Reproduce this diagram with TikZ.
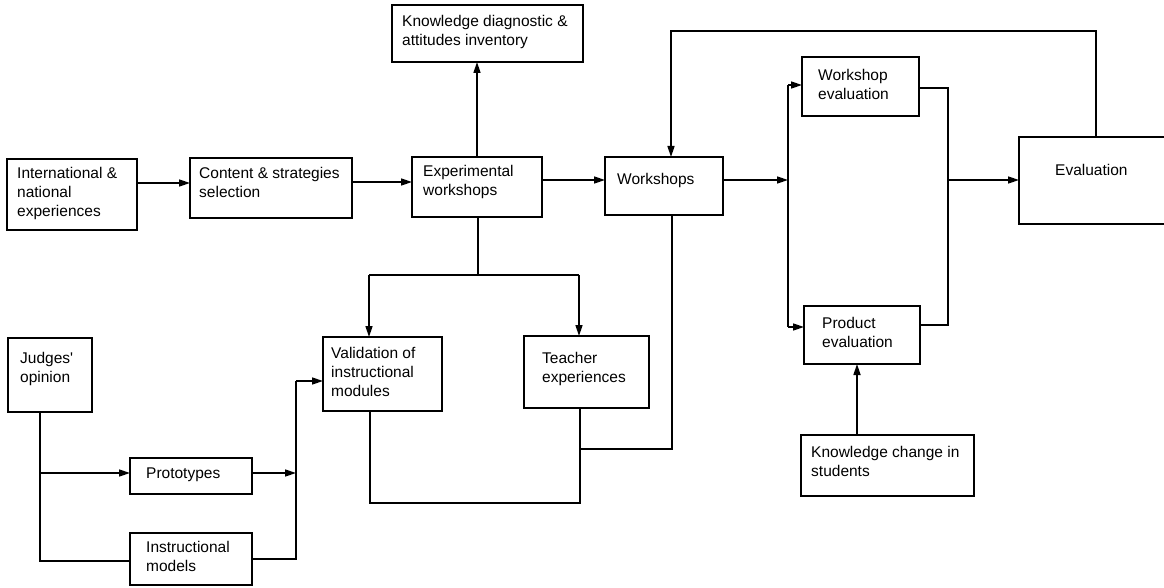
\documentclass[tikz,border=0pt]{standalone}
\usepackage{fontspec}
\setmainfont{Liberation Sans}
\usetikzlibrary{arrows.meta,calc}

% box from (x1,y1) to (x2,y2), in pixel-like units, y growing downwards
\newcommand\mkbox[6][box]{\node[#1, anchor=north west,
  minimum width={(#4-#2)*1pt}, minimum height={(#5-#3)*1pt}] (#6) at (#2,#3) {};}
% left-aligned lines whose first baseline sits at the anchor
\newcommand\lines[1]{\begin{tabular}[t]{@{}l@{}}#1\end{tabular}}
% text of a box: padding from the left edge, first baseline below the top edge
\newcommand\boxtext[4]{\node[lbl] (#1-t) at ($(#1.north west)+(#2,#3)$) {\lines{#4}};}

\begin{document}
\begin{tikzpicture}[x=1pt, y=-1pt,
  box/.style={draw, line width=1.8pt, inner sep=0pt, outer sep=0pt},
  bare/.style={inner sep=0pt, outer sep=0pt},
  lbl/.style={anchor=base west, inner sep=0pt, font=\fontsize{15.5}{19}\selectfont},
  wire/.style={line width=1.6pt},
  arr/.style={wire, -{Triangle[length=11pt, width=7pt]}}]
\useasboundingbox (0,0) rectangle (1164,588);

% boxes
\mkbox{7}{159}{137}{230}{intl}
\mkbox{190}{158}{352}{218}{content}
\mkbox{412}{157}{542}{217}{exper}
\mkbox{392}{5}{583}{62}{kdiag}
\mkbox{605}{157}{723}{215}{works}
\mkbox{802}{57}{919}{116}{weval}
\mkbox{804}{306}{920}{364}{peval}
\mkbox[bare]{1019}{137}{1164}{224}{evalb}
\mkbox{8}{338}{92}{412}{judges}
\mkbox{130}{458}{252}{494}{proto}
\mkbox{130}{533}{252}{585}{instr}
\mkbox{323}{337}{442}{411}{valid}
\mkbox{524}{336}{649}{408}{teach}
\mkbox{801}{435}{974}{496}{kchange}

% the evaluation box runs off the right edge
\draw[line width=1.8pt] (evalb.north east) -- (evalb.north west)
  -- (evalb.south west) -- (evalb.south east);

% box texts
\boxtext{intl}{10}{20}{International \&\\national\\experiences}
\boxtext{content}{9}{21}{Content \& strategies\\selection}
\boxtext{exper}{11}{20}{Experimental\\workshops}
\boxtext{kdiag}{10}{22}{Knowledge diagnostic \&\\attitudes inventory}
\boxtext{works}{12}{28}{Workshops}
\boxtext{weval}{16}{24}{Workshop\\evaluation}
\boxtext{peval}{18}{22}{Product\\evaluation}
\boxtext{evalb}{36}{39}{Evaluation}
\boxtext{judges}{12}{25}{Judges\textquotesingle\\opinion}
\boxtext{proto}{16}{20}{Prototypes}
\boxtext{instr}{16}{19}{Instructional\\models}
\boxtext{valid}{8}{21}{Validation of\\instructional\\modules}
\boxtext{teach}{18}{27}{Teacher\\experiences}
\boxtext{kchange}{10}{22}{Knowledge change in\\students}

% junction points
\coordinate (split) at (788,180);
\coordinate (join) at (948,180);
\coordinate (fork) at (478,275);
\coordinate (bend) at (296,381);
\coordinate (branch) at (40,473);

% main chain
\draw[arr] (intl.east |- 0,183) -- (content.west |- 0,183);
\draw[arr] (content.east |- 0,182) -- (exper.west |- 0,182);
\draw[arr] (exper.east |- 0,180) -- (works.west |- 0,180);
\draw[arr] (exper.north -| 477,0) -- (kdiag.south -| 477,0);

% workshops to the two evaluations
\draw[arr] (works.east |- split) -- (split);
\draw[wire] (split |- 0,85) -- (split |- 0,327);
\draw[arr] (split |- 0,85) -- (weval.west |- 0,85);
\draw[arr] (split |- 0,327) -- (peval.west |- 0,327);

% evaluations into the final evaluation
\draw[wire] (weval.east |- 0,88) -| (join |- 0,325) -- (peval.east |- 0,325);
\draw[arr] (join) -- (evalb.west |- join);
\draw[arr] (kchange.north -| 857,0) -- (peval.south -| 857,0);

% feedback loop
\draw[arr] (evalb.north -| 1096,0) |- (671,31) -- (works.north -| 671,0);

% experimental workshops down to validation and teacher experiences
\draw[wire] (exper.south -| fork) -- (fork);
\draw[wire] (369,275) -- (579,275);
\draw[arr] (369,275) -- (valid.north -| 369,0);
\draw[arr] (579,275) -- (teach.north -| 579,0);

% lower loop
\draw[wire] (valid.south -| 370,0) |- (580,503) -- (teach.south -| 580,0);
\draw[wire] (works.south -| 672,0) |- (580,449);

% judges' opinion branch
\draw[wire] (judges.south -| branch) |- (instr.west |- 0,561);
\draw[arr] (branch) -- (proto.west |- branch);
\draw[arr] (proto.east |- branch) -- (bend |- branch);
\draw[wire] (instr.east |- 0,559) -| (bend);
\draw[arr] (bend) -- (valid.west |- bend);
\end{tikzpicture}
\end{document}
